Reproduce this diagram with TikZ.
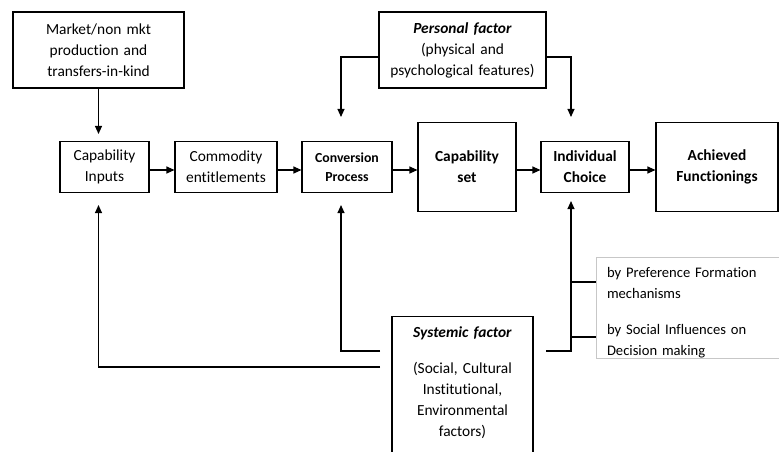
\documentclass[tikz,border=0pt]{standalone}
\usepackage{fontspec}
\setmainfont{Carlito}[Ligatures=NoCommon]
\usetikzlibrary{arrows.meta}

\begin{document}
\begin{tikzpicture}[x=1pt, y=-1pt, line width=1.1pt,
  box/.style={draw, text centered, inner xsep=0, inner ysep=0,
    font=\fontsize{15.4}{21}\selectfont},
  notebox/.style={draw=black!22, line width=0.8pt, align=left, inner xsep=11pt,
    inner ysep=3pt, text height=17pt, text depth=78pt,
    font=\fontsize{14.6}{21}\selectfont},
  arr/.style={-{Triangle[length=8pt, width=7pt]}}]

\useasboundingbox (0,0) rectangle (779,451);

\node[box, text width=171pt, minimum height=76pt] (market) at (98.5,50)
  {Market/non mkt\\ production and\\ transfers-in-kind};
\node[box, text width=167pt, minimum height=76pt] (personal) at (462.5,50)
  {\textbf{\textit{Personal factor}}\\ (physical and\\ psychological features)};

\node[box, text width=89pt, minimum height=51pt] (capin) at (104.5,167)
  {Capability\\ Inputs};
\node[box, text width=102pt, minimum height=51pt] (commod) at (226,167)
  {Commodity\\ entitlements};
\node[box, text width=90pt, minimum height=51pt,
  font=\fontsize{13.8}{19}\selectfont\bfseries] (conv) at (347,167)
  {Conversion\\ Process};
\node[box, text width=98pt, minimum height=89pt, font=\fontsize{15.4}{21}\selectfont\bfseries]
  (capset) at (467,167) {Capability\\ set};
\node[box, text width=88pt, minimum height=51pt, font=\fontsize{15.4}{21}\selectfont\bfseries]
  (indch) at (585,167) {Individual\\ Choice};
\node[box, text width=122pt, minimum height=89pt, font=\fontsize{15.4}{21}\selectfont\bfseries]
  (achf) at (717,167) {Achieved\\ Functionings};

\node[box, text width=141pt, inner ysep=10pt, anchor=north] (sys) at (462.5,316)
  {\textbf{\textit{Systemic factor}}\\[15pt] (Social, Cultural\\ Institutional,\\
   Environmental\\ factors)\\[10pt] ~};

\node[notebox, text width=161pt, anchor=north] (note) at (687.5,257)
  {by Preference Formation\\ mechanisms\\[15pt] by Social Influences on\\ Decision making};

\draw[arr, shorten >=7pt] (market.south) -- (market.south |- capin.north);

\draw[arr] ([yshift=-3pt]capin.east) -- ([yshift=-3pt]commod.west);
\draw[arr] ([yshift=-3pt]commod.east) -- ([yshift=-3pt]conv.west);
\draw[arr] ([yshift=-3pt]conv.east) -- ([yshift=-3pt]capset.west);
\draw[arr] ([yshift=-3pt]capset.east) -- ([yshift=-3pt]indch.west);
\draw[arr] ([yshift=-3pt]indch.east) -- ([yshift=-3pt]achf.west);

\draw[arr, shorten >=24pt] ([yshift=-7pt]personal.west) -| (conv.north -| 341,0);
\draw[arr, shorten >=24pt] ([yshift=-7pt]personal.east) -| (indch.north -| 571,0);

\coordinate (sysA) at (380,351);
\coordinate (sysB) at (380,367);
\coordinate (sysC) at (546,351);

\draw[arr, shorten >=12pt] (sysA) -| (conv.south -| 341,0);
\draw[arr, shorten >=12pt] (sysB) -| (market.south |- capin.south);
\draw[arr, shorten >=8pt] (sysC) -| (indch.south -| 571,0);

\draw (note.west |- 0,282) -- ++(-25,0);
\draw (note.west |- 0,337) -- ++(-25,0);

\end{tikzpicture}
\end{document}
